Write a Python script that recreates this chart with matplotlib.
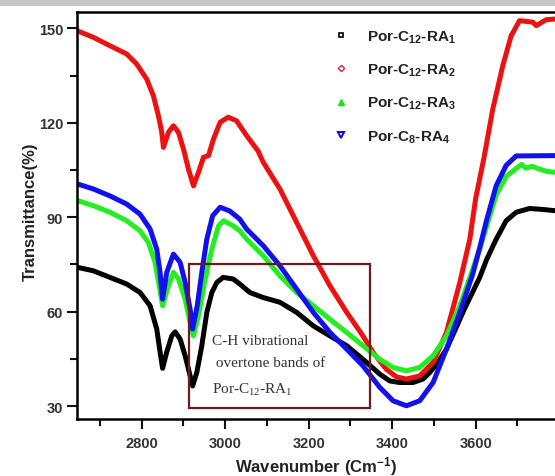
import matplotlib.pyplot as plt
from matplotlib.lines import Line2D
from matplotlib.patches import Rectangle
from matplotlib.ticker import MultipleLocator

plt.rcParams['font.family'] = ['Liberation Sans', 'DejaVu Sans']
plt.rcParams['mathtext.default'] = 'regular'

# FTIR spectra (wavenumber in cm-1, transmittance in %)
wn_ra1 = [2646, 2684, 2724, 2764, 2796, 2820, 2836, 2844, 2850, 2860, 2872, 2880,
          2892, 2904, 2916, 2922, 2932, 2944, 2956, 2968, 2980, 2995, 3019, 3035,
          3059, 3091, 3131, 3171, 3211, 3251, 3291, 3330, 3370, 3394, 3418, 3450,
          3474, 3490, 3510, 3530, 3550, 3570, 3590, 3610, 3626, 3649, 3673, 3697,
          3729, 3760, 3790]
t_ra1 = [74.1, 73.0, 70.9, 68.8, 66.1, 61.9, 54.5, 47.2, 42.0, 47.2, 52.3, 53.6,
         51.3, 46.0, 39.6, 36.4, 40.7, 49.2, 59.8, 66.1, 69.3, 70.9, 70.4, 68.8,
         66.1, 64.5, 63.0, 59.8, 55.5, 52.3, 49.2, 44.9, 40.2, 38.0, 37.5, 37.5,
         38.6, 40.7, 43.9, 48.1, 54.0, 60.0, 65.5, 71.0, 76.5, 83.0, 88.9, 91.6,
         92.8, 92.5, 92.1]

wn_ra2 = [2645, 2684, 2724, 2764, 2788, 2812, 2828, 2840, 2848, 2852, 2864, 2876,
          2888, 2900, 2912, 2924, 2936, 2948, 2960, 2972, 2988, 3007, 3027, 3051,
          3079, 3091, 3131, 3171, 3211, 3251, 3291, 3330, 3354, 3386, 3410, 3434,
          3466, 3498, 3530, 3562, 3586, 3600, 3620, 3641, 3665, 3685, 3705, 3737,
          3745, 3769, 3790]
t_ra2 = [149.3, 147.2, 144.5, 141.9, 138.7, 133.9, 128.6, 122.3, 117.0, 112.2, 117.0, 119.1,
         117.0, 111.7, 105.3, 100.0, 104.3, 109.1, 109.6, 114.9, 120.2, 121.8, 120.7, 116.0,
         111.0, 107.5, 99.0, 88.4, 77.8, 68.2, 59.8, 52.3, 47.1, 41.7, 39.3, 38.6,
         39.6, 43.9, 53.4, 69.3, 83.1, 96.0, 109.0, 124.4, 138.2, 147.7, 152.5, 152.0,
         150.9, 152.8, 153.0]

wn_ra3 = [2646, 2684, 2724, 2764, 2796, 2816, 2832, 2842, 2850, 2864, 2876, 2888,
          2904, 2916, 2924, 2936, 2952, 2968, 2984, 2996, 3019, 3035, 3051, 3091,
          3131, 3171, 3211, 3251, 3291, 3330, 3370, 3402, 3434, 3466, 3498, 3530,
          3562, 3593, 3610, 3626, 3649, 3673, 3697, 3710, 3720, 3735, 3753, 3770,
          3790]
t_ra3 = [95.3, 93.7, 91.6, 88.9, 85.7, 82.0, 75.7, 68.2, 61.9, 68.2, 72.5, 70.4,
         64.0, 56.6, 52.3, 58.7, 70.4, 79.9, 87.3, 88.9, 87.3, 85.7, 83.1, 77.8,
         71.4, 66.1, 61.9, 57.6, 53.4, 49.2, 44.9, 42.3, 41.2, 42.3, 46.0, 52.3,
         61.9, 73.5, 80.0, 87.0, 97.0, 103.0, 105.5, 106.8, 105.6, 106.2, 105.3, 104.6,
         104.3]

wn_ra4 = [2646, 2684, 2724, 2764, 2796, 2820, 2836, 2844, 2850, 2860, 2876, 2892,
          2904, 2916, 2922, 2933, 2944, 2956, 2970, 2988, 3011, 3035, 3051, 3091,
          3131, 3171, 3211, 3251, 3291, 3330, 3370, 3402, 3434, 3466, 3498, 3530,
          3562, 3593, 3610, 3626, 3649, 3673, 3697, 3790]
t_ra4 = [100.6, 99.0, 96.8, 94.2, 91.0, 86.3, 79.9, 72.5, 64.0, 72.5, 78.3, 75.7,
         69.3, 60.8, 54.5, 61.9, 72.5, 83.1, 90.5, 93.2, 92.0, 89.4, 86.3, 81.0,
         74.6, 67.2, 59.8, 53.4, 48.1, 42.8, 36.0, 31.7, 30.1, 31.7, 37.5, 48.1,
         59.8, 72.0, 80.5, 89.0, 100.0, 106.5, 109.5, 109.6]

labels = ['Por-C$_{12}$-RA$_1$', 'Por-C$_{12}$-RA$_2$',
          'Por-C$_{12}$-RA$_3$', 'Por-C$_8$-RA$_4$']
colors = ['#000000', '#ee1111', '#22ee22', '#1111ee']

# highlighted region: x from/to, y from/to
box_wn = [2914, 3348]
box_t = [29.4, 75.1]

W, H = 555, 477
fig = plt.figure(figsize=(W / 100, H / 100), dpi=100)
fig.patches.append(Rectangle((0, (H - 7) / H), 1, 6 / H, transform=fig.transFigure,
                             facecolor='#c6c6c6', edgecolor='none'))
ax = fig.add_axes([77 / W, (H - 420) / H, (W - 77) / W, (420 - 12.5) / H])

series = [(wn_ra1, t_ra1), (wn_ra2, t_ra2), (wn_ra3, t_ra3), (wn_ra4, t_ra4)]
for (x, y), c in zip(series, colors):
    ax.plot(x, y, color=c, lw=3.6, solid_joinstyle='round', solid_capstyle='round')

ax.add_patch(Rectangle((box_wn[0], box_t[0]), box_wn[1] - box_wn[0], box_t[1] - box_t[0],
                       fill=False, edgecolor='#6b1c1c', lw=1.6, zorder=3))
ax.text(box_wn[0] + 55, 53.0, 'C-H vibrational\n overtone bands of\nPor-C$_{12}$-RA$_1$',
        family=['Liberation Serif'], fontsize=11, color='#333333',
        va='top', ha='left', linespacing=1.95)

ax.set_xlim(2645, 3790)
ax.set_ylim(25.9, 155.4)
ax.set_xticks([2800, 3000, 3200, 3400, 3600])
ax.set_yticks([30, 60, 90, 120, 150])
ax.xaxis.set_minor_locator(MultipleLocator(100))
ax.yaxis.set_minor_locator(MultipleLocator(15))
ax.tick_params(which='both', direction='out', width=1.5, colors='#111111',
               labelcolor='#333333', labelsize=10.5)
ax.tick_params(which='major', length=7.5)
ax.tick_params(which='minor', length=5)
ax.tick_params(axis='x', pad=4.5)
ax.tick_params(axis='y', pad=2.5)
for lab in ax.get_xticklabels() + ax.get_yticklabels():
    lab.set_fontweight('bold')
for s in ['left', 'bottom', 'top']:
    ax.spines[s].set_linewidth(1.8)
ax.spines['right'].set_visible(False)

ax.set_xlabel('Wavenumber (Cm$^{-1}$)', fontsize=12, fontweight='bold', color='#222222')
ax.set_ylabel('Transmittance(%)', fontsize=12, fontweight='bold', color='#222222')
ax.xaxis.set_label_coords(0.5, -0.086)
ax.yaxis.set_label_coords(-0.082, 0.51)

handles = [
    Line2D([], [], ls='none', marker='s', ms=3.5, mfc='none', mec='#000000', mew=1.2),
    Line2D([], [], ls='none', marker='D', ms=3.2, mfc='none', mec='#dd2244', mew=1.0),
    Line2D([], [], ls='none', marker='^', ms=5, mfc='#22dd22', mec='#22dd22'),
    Line2D([], [], ls='none', marker='v', ms=5, mfc='none', mec='#1111cc', mew=1.5),
]
leg = ax.legend(handles, labels, loc='upper left', bbox_to_anchor=(0.5356, 0.958),
                frameon=False, handlelength=1.0, handletextpad=1.2,
                borderpad=0, borderaxespad=0, labelspacing=1.1,
                prop={'weight': 'bold', 'size': 11})
for t in leg.get_texts():
    t.set_color('#222222')

fig.savefig('out.png', dpi=100)
